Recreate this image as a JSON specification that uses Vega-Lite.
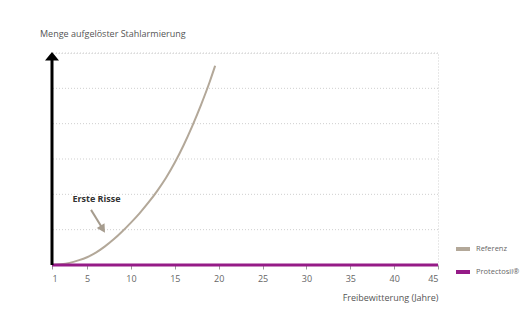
{
  "$schema": "https://vega.github.io/schema/vega-lite/v6.json",
  "width": 386,
  "height": 212,
  "autosize": {"type": "none"},
  "padding": {"left": 52, "top": 53, "right": 94, "bottom": 51},
  "background": "#ffffff",
  "config": {
    "font": "Open Sans",
    "view": {"stroke": "#d0d0d0", "strokeDash": [1, 2]},
    "legend": {"labelFont": "Open Sans"},
    "axisY": {"grid": false, "labels": false, "ticks": false, "domain": false, "title": null}
  },
  "title": {
    "text": "Menge aufgelöster Stahlarmierung",
    "anchor": "start",
    "frame": "group",
    "dx": -12,
    "offset": 13,
    "fontSize": 9,
    "fontWeight": "normal",
    "color": "#555555",
    "font": "Open Sans"
  },
  "datasets": {
    "lines": [
      {"jahr": 1, "menge": 0, "serie": "Referenz"},
      {"jahr": 2, "menge": 0.02, "serie": "Referenz"},
      {"jahr": 3, "menge": 0.06, "serie": "Referenz"},
      {"jahr": 4, "menge": 0.13, "serie": "Referenz"},
      {"jahr": 5, "menge": 0.22, "serie": "Referenz"},
      {"jahr": 6, "menge": 0.35, "serie": "Referenz"},
      {"jahr": 7, "menge": 0.52, "serie": "Referenz"},
      {"jahr": 8, "menge": 0.72, "serie": "Referenz"},
      {"jahr": 9, "menge": 0.95, "serie": "Referenz"},
      {"jahr": 10, "menge": 1.2, "serie": "Referenz"},
      {"jahr": 11, "menge": 1.47, "serie": "Referenz"},
      {"jahr": 12, "menge": 1.77, "serie": "Referenz"},
      {"jahr": 13, "menge": 2.1, "serie": "Referenz"},
      {"jahr": 14, "menge": 2.47, "serie": "Referenz"},
      {"jahr": 15, "menge": 2.9, "serie": "Referenz"},
      {"jahr": 16, "menge": 3.39, "serie": "Referenz"},
      {"jahr": 17, "menge": 3.94, "serie": "Referenz"},
      {"jahr": 18, "menge": 4.54, "serie": "Referenz"},
      {"jahr": 19, "menge": 5.2, "serie": "Referenz"},
      {"jahr": 19.6, "menge": 5.64, "serie": "Referenz"},
      {"jahr": 1, "menge": 0, "serie": "Protectosil®"},
      {"jahr": 45, "menge": 0, "serie": "Protectosil®"}
    ],
    "gitter": [{"stufe": 1}, {"stufe": 2}, {"stufe": 3}, {"stufe": 4}, {"stufe": 5}, {"stufe": 6}],
    "one": [{}]
  },
  "layer": [
    {
      "data": {"name": "gitter"},
      "mark": {"type": "rule", "color": "#cfcfcf", "strokeWidth": 1, "strokeDash": [1, 2]},
      "encoding": {
        "y": {"field": "stufe", "type": "quantitative", "scale": {"domain": [0, 6], "nice": false}}
      }
    },
    {
      "data": {"name": "lines"},
      "transform": [{"filter": "datum.serie === 'Referenz'"}],
      "mark": {"type": "line", "strokeWidth": 2, "interpolate": "monotone"},
      "encoding": {
        "x": {
          "field": "jahr", "type": "quantitative",
          "scale": {"domain": [1, 45], "nice": false, "zero": false},
          "axis": {
            "values": [1, 5, 10, 15, 20, 25, 30, 35, 40, 45],
            "grid": false,
            "domain": false,
            "tickColor": "#999999",
            "tickSize": 4,
            "labelFontSize": 9,
            "labelColor": "#666666",
            "labelPadding": 5,
            "labelFont": "Open Sans",
            "title": "Freibewitterung (Jahre)",
            "titleFontSize": 9,
            "titleFontWeight": "normal",
            "titleColor": "#555555",
            "titleFont": "Open Sans",
            "titleAnchor": "end",
            "titlePadding": 10
          }
        },
        "y": {"field": "menge", "type": "quantitative"},
        "color": {
          "field": "serie", "type": "nominal",
          "scale": {"domain": ["Referenz", "Protectosil®"], "range": ["#b3a899", "#951b87"]},
          "legend": {
            "title": null,
            "orient": "none",
            "legendX": 402,
            "legendY": 187,
            "symbolType": "stroke",
            "symbolStrokeWidth": 4,
            "symbolSize": 196,
            "labelFontSize": 7.5,
            "labelColor": "#666666",
            "rowPadding": 6,
            "labelOffset": 4
          }
        }
      }
    },
    {
      "data": {"name": "lines"},
      "transform": [{"filter": "datum.serie !== 'Referenz'"}],
      "mark": {"type": "line", "strokeWidth": 3},
      "encoding": {
        "x": {"field": "jahr", "type": "quantitative"},
        "y": {"field": "menge", "type": "quantitative"},
        "color": {"field": "serie", "type": "nominal"}
      }
    },
    {
      "data": {"name": "one"},
      "mark": {"type": "rule", "color": "#000000", "strokeWidth": 3},
      "encoding": {
        "x": {"datum": 1, "type": "quantitative"},
        "y": {"datum": 0, "type": "quantitative"},
        "y2": {"datum": 5.9}
      }
    },
    {
      "data": {"name": "one"},
      "mark": {"type": "point", "shape": "M-1,0.6L0,-0.6L1,0.6Z", "size": 196, "filled": true, "color": "#000000", "opacity": 1},
      "encoding": {
        "x": {"datum": 1, "type": "quantitative"},
        "y": {"datum": 5.91, "type": "quantitative"}
      }
    },
    {
      "data": {"name": "one"},
      "mark": {"type": "rule", "color": "#a69c8e", "strokeWidth": 2},
      "encoding": {
        "x": {"datum": 5.45, "type": "quantitative"},
        "y": {"datum": 1.56, "type": "quantitative"},
        "x2": {"datum": 6.85},
        "y2": {"datum": 1.0}
      }
    },
    {
      "data": {"name": "one"},
      "mark": {"type": "point", "shape": "M0,0L-0.75,1.4L0.75,1.4Z", "size": 144, "filled": true, "color": "#a69c8e", "opacity": 1, "angle": 149},
      "encoding": {
        "x": {"datum": 7.04, "type": "quantitative"},
        "y": {"datum": 0.91, "type": "quantitative"}
      }
    },
    {
      "data": {"name": "one"},
      "mark": {"type": "text", "text": "Erste Risse", "fontSize": 9, "fontWeight": "bold", "color": "#333333", "font": "Open Sans", "align": "center", "baseline": "middle"},
      "encoding": {
        "x": {"datum": 6.07, "type": "quantitative"},
        "y": {"datum": 1.87, "type": "quantitative"}
      }
    }
  ]
}
